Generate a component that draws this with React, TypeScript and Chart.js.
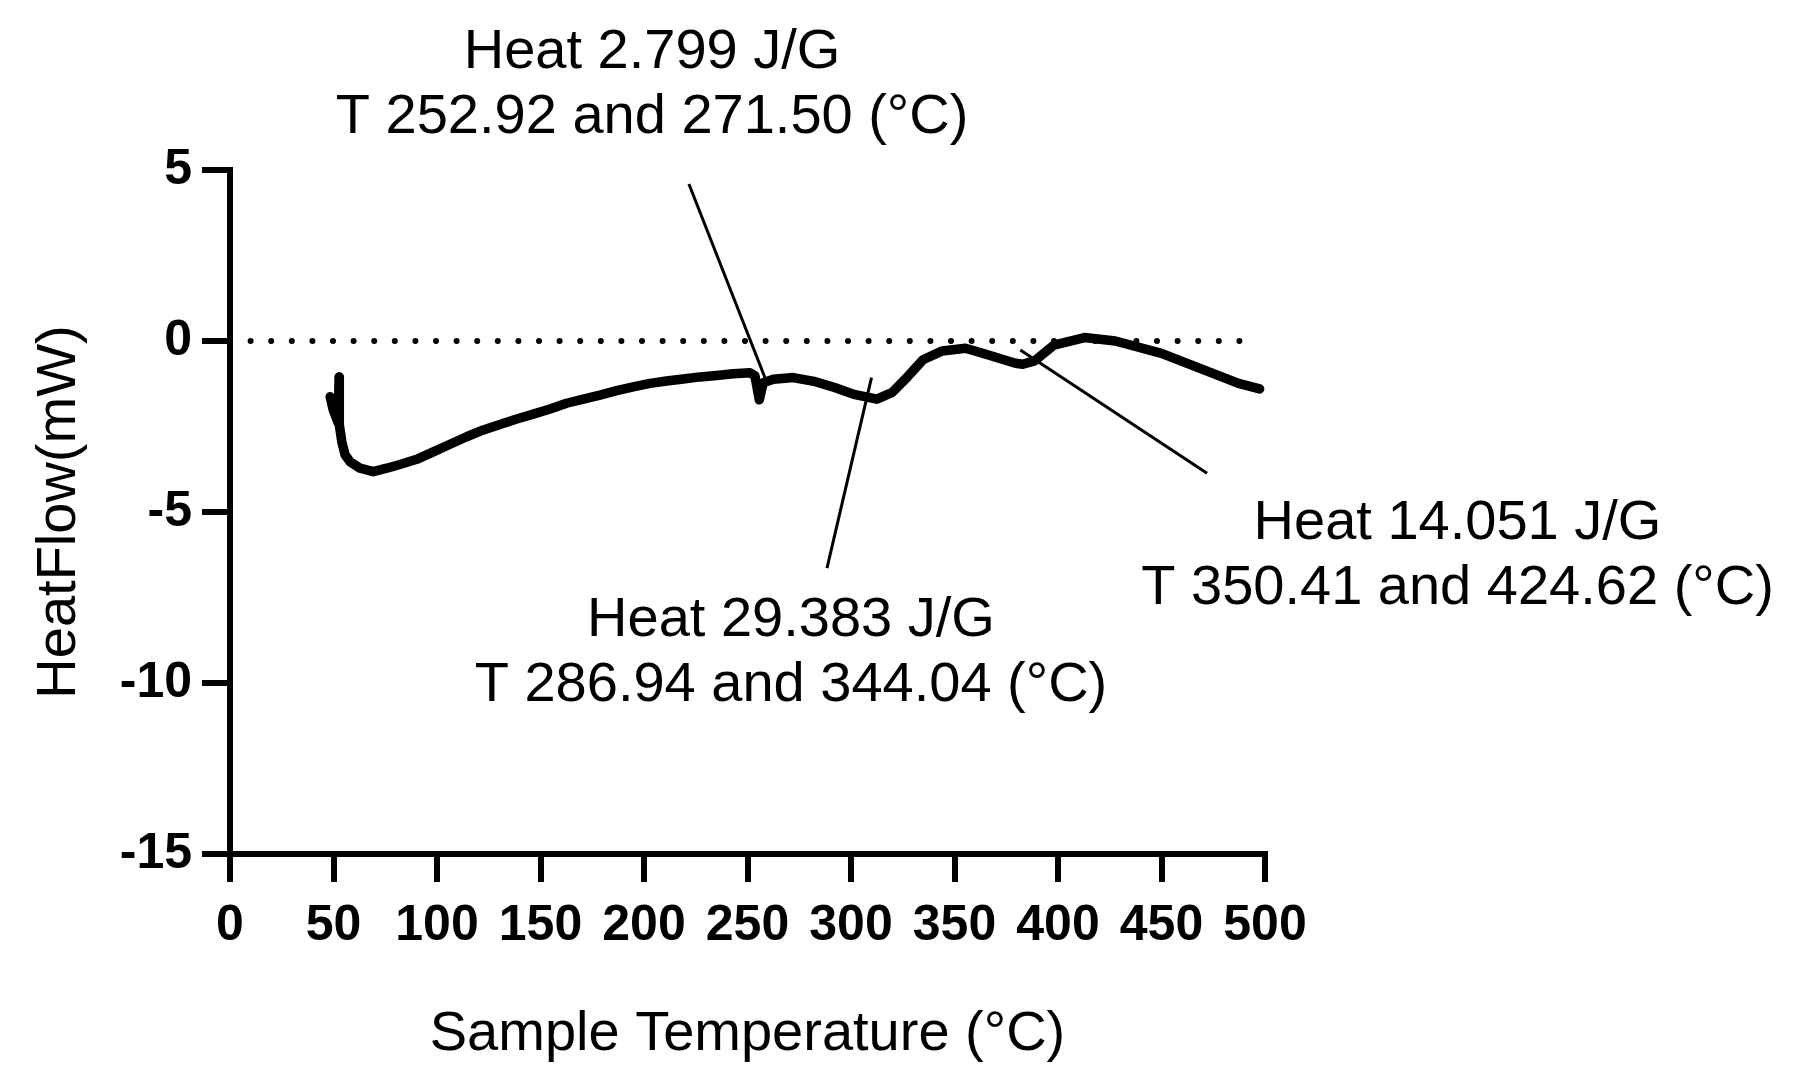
import React, { useEffect, useRef } from "react";
import { Chart, registerables } from "chart.js";

Chart.register(...registerables);

// Sample temperature (°C) of the DSC trace
const tempC = [
  48.4, 49.9, 52.3, 52.7, 52.8, 54.0, 55.6, 58.0, 62.8, 69.2, 75.7, 82.1, 90.2,
  98.2, 106.3, 114.3, 122.4, 130.4, 138.5, 146.5, 154.6, 162.6, 170.7, 178.7,
  186.8, 194.8, 202.9, 210.9, 219.0, 227.0, 235.1, 243.1, 251.2, 253.6, 255.7,
  257.6, 262.5, 272.1, 282.8, 292.1, 301.4, 312.5, 320.0, 327.4, 334.8, 344.1,
  355.3, 366.4, 379.4, 383.0, 388.7, 398.0, 412.8, 427.7, 450.0, 468.6, 487.2,
  497.4,
];
// Heat flow (mW)
const heatFlow = [
  -1.63, -2.02, -2.4, -1.05, -2.45, -2.94, -3.33, -3.53, -3.72, -3.82, -3.72,
  -3.61, -3.46, -3.24, -3.02, -2.8, -2.6, -2.44, -2.28, -2.14, -1.99, -1.82,
  -1.7, -1.58, -1.45, -1.34, -1.24, -1.17, -1.11, -1.05, -1.01, -0.96, -0.93,
  -1.02, -1.72, -1.22, -1.12, -1.07, -1.19, -1.36, -1.56, -1.7, -1.5, -1.04,
  -0.55, -0.29, -0.21, -0.41, -0.65, -0.68, -0.58, -0.12, 0.1, 0.0, -0.36,
  -0.8, -1.24, -1.4,
];

// zero reference line
const zeroLineT = [0, 490];
const zeroLineH = [0, 0];

// leader lines (start and end in data units)
const leader1T = [221.7, 258.5];
const leader1H = [4.59, -1.08];
const leader2T = [288.4, 309.9];
const leader2H = [-6.64, -1.07];
const leader3T = [381.8, 472.0];
const leader3H = [-0.26, -3.87];

// annotation labels
const noteLines1 = ["Heat 2.799 J/G", "T 252.92 and 271.50 (°C)"];
const noteLines2 = ["Heat 29.383 J/G", "T 286.94 and 344.04 (°C)"];
const noteLines3 = ["Heat 14.051 J/G", "T 350.41 and 424.62 (°C)"];
const noteAnchorT = [203.9, 271.0, 593.0];
const noteAnchorH = [7.98, -8.63, -5.79];

const xTitle = "Sample Temperature (°C)";
const yTitle = "HeatFlow(mW)";

const FONT = '"Liberation Sans", Arial, Helvetica, sans-serif';

const pts = (xs: number[], ys: number[]) => xs.map((x, i) => ({ x, y: ys[i] }));

const notesPlugin = {
  id: "dscNotes",
  afterDatasetsDraw(chart: any) {
    const { ctx, scales } = chart;
    const xs = scales.x;
    const ys = scales.y;
    const groups = [noteLines1, noteLines2, noteLines3];
    ctx.save();
    ctx.font = `56px ${FONT}`;
    ctx.fillStyle = "#000";
    ctx.textAlign = "center";
    ctx.textBaseline = "alphabetic";
    groups.forEach((lines, gi) => {
      const px = xs.getPixelForValue(noteAnchorT[gi]);
      const py = ys.getPixelForValue(noteAnchorH[gi]);
      lines.forEach((t, li) => ctx.fillText(t, px, py + li * 65));
    });
    ctx.restore();
  },
};

export default function App() {
  const ref = useRef<HTMLCanvasElement | null>(null);

  useEffect(() => {
    if (!ref.current) return;
    const leaderStyle = {
      showLine: true,
      borderColor: "#000",
      borderWidth: 3,
      pointRadius: 0,
      fill: false,
    };
    const chart = new Chart(ref.current, {
      type: "scatter",
      data: {
        datasets: [
          {
            data: pts(zeroLineT, zeroLineH),
            showLine: true,
            borderColor: "#000",
            borderWidth: 6,
            borderDash: [0, 20.6],
            borderCapStyle: "round",
            pointRadius: 0,
          },
          {
            data: pts(tempC, heatFlow),
            showLine: true,
            borderColor: "#000",
            borderWidth: 9.5,
            borderJoinStyle: "round",
            borderCapStyle: "round",
            pointRadius: 0,
            tension: 0,
          },
          { data: pts(leader1T, leader1H), ...leaderStyle },
          { data: pts(leader2T, leader2H), ...leaderStyle },
          { data: pts(leader3T, leader3H), ...leaderStyle },
        ] as any,
      },
      options: {
        responsive: false,
        animation: false,
        devicePixelRatio: 1,
        layout: { padding: { top: 170, right: 532, left: 0, bottom: 0 } },
        plugins: { legend: { display: false }, tooltip: { enabled: false } },
        scales: {
          x: {
            type: "linear",
            min: 0,
            max: 500,
            afterFit: (s: any) => {
              s.height = 234;
            },
            ticks: {
              stepSize: 50,
              color: "#000",
              padding: 14,
              maxRotation: 0,
              font: { family: FONT, size: 50, weight: "bold" },
            },
            grid: {
              drawOnChartArea: false,
              drawTicks: true,
              tickLength: 28,
              lineWidth: 6,
              color: "#000",
            },
            border: { display: true, width: 6, color: "#000" },
            title: {
              display: true,
              text: xTitle,
              color: "#000",
              font: { family: FONT, size: 56 },
              padding: { top: 0, bottom: 20 },
            },
          },
          y: {
            type: "linear",
            min: -15,
            max: 5,
            afterFit: (s: any) => {
              s.width = 230;
            },
            ticks: {
              stepSize: 5,
              color: "#000",
              padding: 10,
              font: { family: FONT, size: 50, weight: "bold" },
            },
            grid: {
              drawOnChartArea: false,
              drawTicks: true,
              tickLength: 28,
              lineWidth: 6,
              color: "#000",
            },
            border: { display: true, width: 6, color: "#000" },
            title: {
              display: true,
              text: yTitle,
              color: "#000",
              font: { family: FONT, size: 56 },
              padding: { top: 26, bottom: 0 },
            },
          },
        },
      } as any,
      plugins: [notesPlugin],
    });
    return () => chart.destroy();
  }, []);

  return (
    <div
      style={{
        position: "fixed",
        left: 0,
        top: 0,
        width: 1797,
        height: 1088,
        background: "#fff",
      }}
    >
      <canvas ref={ref} width={1797} height={1088} style={{ display: "block" }} />
    </div>
  );
}
